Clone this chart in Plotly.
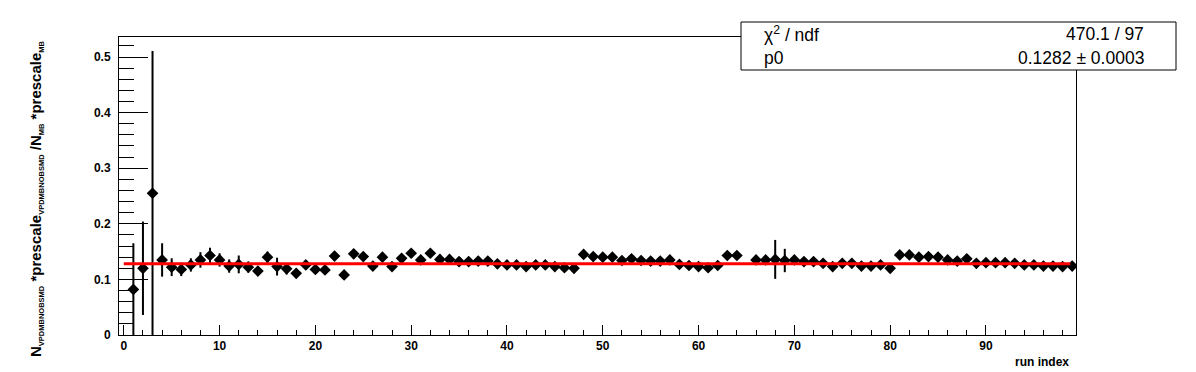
import plotly.graph_objects as go

# ---- data ----
run_index = [i for i in range(1, 100) if i != 65]
ratio = [
    0.082, 0.120, 0.255, 0.135, 0.122, 0.118, 0.126, 0.135, 0.143, 0.135,   # 1-10
    0.124, 0.127, 0.122, 0.115, 0.140, 0.123, 0.119, 0.111, 0.126, 0.118,   # 11-20
    0.117, 0.142, 0.108, 0.146, 0.141, 0.124, 0.140, 0.123, 0.138, 0.147,   # 21-30
    0.135, 0.147, 0.136, 0.136, 0.132, 0.132, 0.133, 0.133, 0.128, 0.126,   # 31-40
    0.126, 0.123, 0.126, 0.126, 0.123, 0.121, 0.120, 0.145, 0.141, 0.140,   # 41-50
    0.140, 0.134, 0.137, 0.134, 0.133, 0.133, 0.135, 0.127, 0.125, 0.123,   # 51-60
    0.121, 0.125, 0.143, 0.143,                                             # 61-64
    0.135, 0.135, 0.136, 0.134, 0.135, 0.132, 0.132, 0.129, 0.123,          # 66-74
    0.129, 0.129, 0.124, 0.124, 0.126, 0.120, 0.144, 0.144, 0.140, 0.141,   # 75-84
    0.140, 0.135, 0.133, 0.137, 0.129, 0.130, 0.130, 0.130, 0.129, 0.126,   # 85-94
    0.126, 0.124, 0.124, 0.123, 0.124,                                      # 95-99
]
ratio_err = [
    0.083, 0.084, 0.256, 0.030, 0.016, 0.012, 0.012, 0.014, 0.014, 0.012,
    0.012, 0.016, 0.010, 0.008, 0.010, 0.016, 0.010, 0.008, 0.008, 0.008,
    0.008, 0.008, 0.008, 0.008, 0.008, 0.006, 0.006, 0.006, 0.006, 0.006,
    0.005, 0.005, 0.005, 0.005, 0.005, 0.005, 0.005, 0.005, 0.005, 0.005,
    0.005, 0.005, 0.005, 0.005, 0.005, 0.005, 0.005, 0.005, 0.005, 0.005,
    0.005, 0.005, 0.005, 0.005, 0.005, 0.005, 0.005, 0.005, 0.005, 0.005,
    0.005, 0.005, 0.005, 0.005,
    0.006, 0.006, 0.035, 0.021, 0.006, 0.005, 0.005, 0.005, 0.005,
    0.005, 0.005, 0.005, 0.005, 0.005, 0.005, 0.005, 0.005, 0.005, 0.005,
    0.005, 0.005, 0.005, 0.005, 0.005, 0.005, 0.005, 0.005, 0.005, 0.005,
    0.005, 0.005, 0.005, 0.005, 0.005,
]
fit_p0 = 0.1282
fit_range = [0, 98.8]
stats_labels = ["χ<sup>2</sup> / ndf", "p0"]
stats_values = ["470.1 / 97", "0.1282 ± 0.0003"]

W, H = 1196, 372
L, R, T, B = 119, 120, 37, 37
pw, ph = W - L - R, H - T - B

def px(xp):
    return (xp - L) / pw

def py(yp):
    return (H - B - yp) / ph

fig = go.Figure()
fig.add_trace(go.Scatter(
    x=run_index, y=ratio, mode="markers",
    marker=dict(symbol="diamond", size=9, color="black"),
    error_y=dict(type="data", array=ratio_err, color="black", thickness=2, width=0),
    showlegend=False, cliponaxis=True,
))
fig.add_trace(go.Scatter(
    x=fit_range, y=[fit_p0, fit_p0], mode="lines",
    line=dict(color="#ff0000", width=3), showlegend=False,
))

font_b = dict(family="Liberation Sans", size=12, color="black", weight="bold")
fig.update_xaxes(
    range=[-0.5, 99.4], dtick=10, tick0=0, ticks="inside", ticklen=10,
    tickcolor="black", tickwidth=1, showline=True, linecolor="black", linewidth=1,
    mirror=True, showgrid=False, zeroline=False, tickfont=font_b,
    minor=dict(dtick=2, ticks="inside", ticklen=5, tickcolor="black", tickwidth=1, showgrid=False),
)
fig.update_yaxes(
    range=[0, 0.536], dtick=0.1, tick0=0, ticks="inside", ticklen=29,
    tickcolor="black", tickwidth=1, showline=True, linecolor="black", linewidth=1,
    mirror=True, showgrid=False, zeroline=False, tickfont=font_b, ticklabelstandoff=5,
    minor=dict(dtick=0.02, ticks="inside", ticklen=15, tickcolor="black", tickwidth=1, showgrid=False),
)

sub = "<sub><span style='font-size:7.5px'>{}</span></sub>"
ytitle = ("N" + sub.format("VPDMBNOBSMD") + " *prescale" + sub.format("VPDMBNOBSMD")
          + " /N" + sub.format("MB") + " *prescale" + sub.format("MB"))

annotations = [
    dict(text=ytitle, xref="paper", yref="paper", x=px(36), y=py(199),
         xanchor="center", yanchor="middle", textangle=-90, showarrow=False,
         font=dict(family="Liberation Sans", size=15, color="black", weight="bold")),
    dict(text="run index", xref="paper", yref="paper", x=px(1071), y=py(362),
         xanchor="right", yanchor="middle", showarrow=False, font=font_b),
]
stat_font = dict(family="Liberation Sans", size=17.5, color="black")
for i, (lab, val) in enumerate(zip(stats_labels, stats_values)):
    yc = 34 + 24 * i
    annotations.append(dict(text=lab, xref="paper", yref="paper", x=px(762), y=py(yc),
                            xanchor="left", yanchor="middle", showarrow=False, font=stat_font))
    annotations.append(dict(text=val, xref="paper", yref="paper", x=px(1146), y=py(yc),
                            xanchor="right", yanchor="middle", showarrow=False, font=stat_font))

fig.update_layout(
    width=W, height=H, margin=dict(l=L, r=R, t=T, b=B, pad=0),
    plot_bgcolor="white", paper_bgcolor="white",
    annotations=annotations,
    shapes=[dict(type="rect", xref="paper", yref="paper",
                 x0=px(741), x1=px(1176), y0=py(70), y1=py(22),
                 line=dict(color="black", width=1), fillcolor="white", layer="above")],
)

fig.write_html("out.html", config={"displayModeBar": False},
               post_script="document.body.style.margin='0';document.body.style.overflow='hidden';")
